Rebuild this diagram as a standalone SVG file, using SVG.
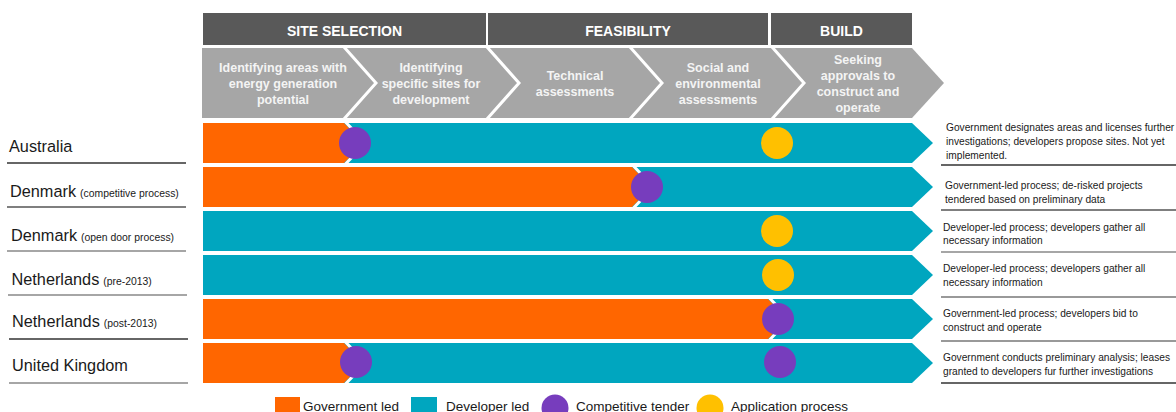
<svg xmlns="http://www.w3.org/2000/svg" width="1176" height="412" viewBox="0 0 1176 412">
<style>
text{font-family:"Liberation Sans",Arial,sans-serif}
.hdr{fill:#595959}
.htx{fill:#fff;font-weight:bold;font-size:14px;text-anchor:middle}
.chv{fill:#a6a6a6}
.ctx{fill:#f4f4f4;font-weight:bold;font-size:12.5px;text-anchor:middle}
.sep{fill:none;stroke:#fff;stroke-width:3}
.gov{fill:#ff6600}
.dev{fill:#00a6bf}
.ten{fill:#773dbd}
.app{fill:#ffc000}
.lbl{fill:#1a1a1a;font-size:16.3px}
.sm{font-size:10.4px}
.ul{stroke-width:1.6}
.desc{fill:#1a1a1a;font-size:10.2px}
.leg{fill:#1a1a1a;font-size:13.5px}
</style>
<rect width="1176" height="412" fill="#fff"/>

<g id="phase-headers">
  <g id="hdr-site"><rect class="hdr" x="203" y="13" width="283" height="32"/><text class="htx" x="344.5" y="35.5">SITE SELECTION</text></g>
  <g id="hdr-feasibility"><rect class="hdr" x="488" y="13" width="280" height="32"/><text class="htx" x="628" y="35.5">FEASIBILITY</text></g>
  <g id="hdr-build"><rect class="hdr" x="771" y="13" width="141" height="32"/><text class="htx" x="841.5" y="35.5">BUILD</text></g>
</g>

<g id="steps">
  <polygon class="chv" points="202,48 912,48 944,83 912,118 202,118"/>
  <polyline class="sep" points="344,47 376,83 344,119"/>
  <polyline class="sep" points="487,47 519,83 487,119"/>
  <polyline class="sep" points="630,47 662,83 630,119"/>
  <polyline class="sep" points="772,47 804,83 772,119"/>
  <g id="step1"><text class="ctx" x="283" y="71.5">Identifying areas with</text><text class="ctx" x="283" y="87.5">energy generation</text><text class="ctx" x="283" y="103.5">potential</text></g>
  <g id="step2"><text class="ctx" x="431" y="71.5">Identifying</text><text class="ctx" x="431" y="87.5">specific sites for</text><text class="ctx" x="431" y="103.5">development</text></g>
  <g id="step3"><text class="ctx" x="575" y="79.5">Technical</text><text class="ctx" x="575" y="95.5">assessments</text></g>
  <g id="step4"><text class="ctx" x="718" y="71.5">Social and</text><text class="ctx" x="718" y="87.5">environmental</text><text class="ctx" x="718" y="103.5">assessments</text></g>
  <g id="step5"><text class="ctx" x="858" y="63.5">Seeking</text><text class="ctx" x="858" y="79.5">approvals to</text><text class="ctx" x="858" y="95.5">construct and</text><text class="ctx" x="858" y="111.5">operate</text></g>
</g>

<g id="connectors"></g>

<g id="row-australia">
  <text class="lbl" x="9" y="152">Australia</text>
  <line class="ul" x1="7" y1="163" x2="186" y2="163" stroke="#333"/>
  <polygon class="dev" points="203,123 912,123 933,143 912,163 203,163"/>
  <polygon class="gov" points="203,123 344,123 364,143 344,163 203,163"/>
  <polyline class="sep" points="345.5,122 365.5,143 345.5,164"/>
  <circle class="ten" cx="355" cy="143" r="16"/>
  <circle class="app" cx="777" cy="143" r="16"/>
  <text class="desc" x="946" y="131">Government designates areas and licenses further</text>
  <text class="desc" x="946" y="145">investigations; developers propose sites. Not yet</text>
  <text class="desc" x="946" y="159">implemented.</text>
  <line class="ul" x1="941" y1="165" x2="1176" y2="165" stroke="#333"/>
</g>

<g id="row-denmark-competitive">
  <text class="lbl" x="10" y="197">Denmark<tspan class="sm" dx="4">(competitive process)</tspan></text>
  <line class="ul" x1="7" y1="207" x2="186" y2="207" stroke="#555"/>
  <polygon class="dev" points="203,167 912,167 933,187 912,207 203,207"/>
  <polygon class="gov" points="203,167 632,167 652,187 632,207 203,207"/>
  <polyline class="sep" points="633.5,166 653.5,187 633.5,208"/>
  <circle class="ten" cx="647" cy="187" r="16"/>
  <text class="desc" x="945" y="189">Government-led process; de-risked projects</text>
  <text class="desc" x="945" y="202.5">tendered based on preliminary data</text>
  <line class="ul" x1="941" y1="210" x2="1176" y2="210" stroke="#555"/>
</g>

<g id="row-denmark-open">
  <text class="lbl" x="11" y="241">Denmark<tspan class="sm" dx="4">(open door process)</tspan></text>
  <line class="ul" x1="7" y1="251" x2="186" y2="251" stroke="#888"/>
  <polygon class="dev" points="203,211 912,211 933,231 912,251 203,251"/>
  <circle class="app" cx="777" cy="231" r="16"/>
  <text class="desc" x="943" y="231">Developer-led process; developers gather all</text>
  <text class="desc" x="943" y="244">necessary information</text>
  <line class="ul" x1="941" y1="252" x2="1176" y2="252" stroke="#888"/>
</g>

<g id="row-netherlands-pre">
  <text class="lbl" x="11.5" y="285">Netherlands<tspan class="sm" dx="4">(pre-2013)</tspan></text>
  <line class="ul" x1="8" y1="295" x2="187" y2="295" stroke="#888"/>
  <polygon class="dev" points="203,255 912,255 933,275 912,295 203,295"/>
  <circle class="app" cx="778" cy="275" r="16"/>
  <text class="desc" x="943" y="272">Developer-led process; developers gather all</text>
  <text class="desc" x="943" y="286">necessary information</text>
  <line class="ul" x1="941" y1="297" x2="1176" y2="297" stroke="#777"/>
</g>

<g id="row-netherlands-post">
  <text class="lbl" x="12" y="327">Netherlands<tspan class="sm" dx="4">(post-2013)</tspan></text>
  <line class="ul" x1="9" y1="339" x2="188" y2="339" stroke="#333"/>
  <polygon class="dev" points="203,299 912,299 933,319 912,339 203,339"/>
  <polygon class="gov" points="203,299 768,299 788,319 768,339 203,339"/>
  <polyline class="sep" points="769.5,298 789.5,319 769.5,340"/>
  <circle class="ten" cx="778" cy="319" r="16"/>
  <text class="desc" x="943" y="317">Government-led process; developers bid to</text>
  <text class="desc" x="943" y="331">construct and operate</text>
  <line class="ul" x1="941" y1="341" x2="1176" y2="341" stroke="#777"/>
</g>

<g id="row-united-kingdom">
  <text class="lbl" x="12" y="371">United Kingdom</text>
  <line class="ul" x1="9" y1="383" x2="188" y2="383" stroke="#888"/>
  <polygon class="dev" points="203,343 912,343 933,363 912,383 203,383"/>
  <polygon class="gov" points="203,343 344,343 364,363 344,383 203,383"/>
  <polyline class="sep" points="345.5,342 365.5,363 345.5,384"/>
  <circle class="ten" cx="356" cy="362" r="16"/>
  <circle class="ten" cx="780" cy="362" r="16"/>
  <text class="desc" x="943" y="361">Government conducts preliminary analysis; leases</text>
  <text class="desc" x="943" y="375">granted to developers fur further investigations</text>
  <line class="ul" x1="941" y1="383" x2="1176" y2="383" stroke="#333"/>
</g>

<g id="legend">
  <rect class="gov" x="275" y="397" width="25" height="20"/>
  <text class="leg" x="303" y="411">Government led</text>
  <rect class="dev" x="411" y="397" width="26" height="20"/>
  <text class="leg" x="446" y="411">Developer led</text>
  <circle class="ten" cx="555" cy="408" r="13.5"/>
  <text class="leg" x="576" y="411">Competitive tender</text>
  <circle class="app" cx="710" cy="408" r="13.5"/>
  <text class="leg" x="731" y="411">Application process</text>
</g>
</svg>
